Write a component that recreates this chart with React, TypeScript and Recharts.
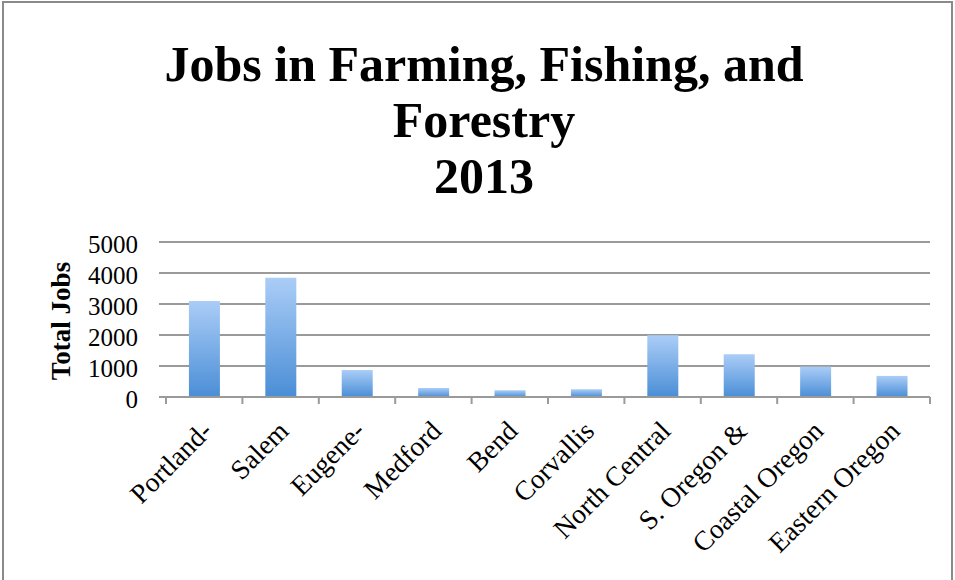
import React from 'react';
import { BarChart, Bar, XAxis, YAxis, CartesianGrid } from 'recharts';

const categories = [
  'Portland-',
  'Salem',
  'Eugene-',
  'Medford',
  'Bend',
  'Corvallis',
  'North Central',
  'S. Oregon &',
  'Coastal Oregon',
  'Eastern Oregon',
];
const totalJobs = [3100, 3850, 870, 290, 215, 250, 1990, 1380, 980, 680];
const yTicks = [0, 1000, 2000, 3000, 4000, 5000];
const titleLines = ['Jobs in Farming, Fishing, and', 'Forestry', '2013'];
const yLabel = 'Total Jobs';

const data = categories.map((name, i) => ({ name, jobs: totalJobs[i] }));

const FONT = '"Liberation Serif", "Times New Roman", serif';
const GRID = '#9a9a9a';

// label rotated 45deg, top-right corner sits under the category centre,
// plus the Excel-style tick marks on the category boundaries
const XTick = (props: any) => {
  const { x, y, payload, index } = props;
  const half = payload && payload.offset ? payload.offset : 0;
  const lx = x - 6;
  const y0 = y + 20;
  return (
    <g>
      <line x1={x - half} y1={y} x2={x - half} y2={y + 7} stroke={GRID} strokeWidth={2} />
      {index === categories.length - 1 && (
        <line x1={x + half} y1={y} x2={x + half} y2={y + 7} stroke={GRID} strokeWidth={2} />
      )}
      <text
        x={lx}
        y={y0}
        dy="0.8em"
        textAnchor="end"
        transform={`rotate(-45 ${lx} ${y0})`}
        fontFamily={FONT}
        fontSize={27.5}
        fill="#000"
      >
        {payload.value}
      </text>
    </g>
  );
};

export default function App() {
  return (
    <div style={{ position: 'absolute', left: 0, top: 0, width: 955, height: 580, background: '#fff' }}>
      <BarChart
        width={955}
        height={580}
        data={data}
        margin={{ top: 242, right: 25, bottom: 0, left: 0 }}
        barCategoryGap="30%"
      >
        <defs>
          <linearGradient id="barFill" x1="0" y1="0" x2="0" y2="1">
            <stop offset="0%" stopColor="#abcdf7" />
            <stop offset="100%" stopColor="#4a8ed6" />
          </linearGradient>
        </defs>
        <CartesianGrid vertical={false} stroke={GRID} strokeWidth={2} />
        <XAxis
          dataKey="name"
          interval={0}
          height={183}
          axisLine={{ stroke: GRID, strokeWidth: 2 }}
          tickLine={false}
          tickSize={0}
          tickMargin={0}
          tick={<XTick />}
        />
        <YAxis
          width={166}
          domain={[0, 5000]}
          ticks={yTicks}
          interval={0}
          axisLine={false}
          tickLine={{ stroke: GRID, strokeWidth: 2 }}
          tickSize={7}
          tickMargin={21}
          tick={{ fill: '#000', fontSize: 25, fontFamily: FONT, dy: 2 }}
        />
        <Bar dataKey="jobs" fill="url(#barFill)" isAnimationActive={false} />
      </BarChart>
      <svg
        width={955}
        height={580}
        style={{ position: 'absolute', left: 0, top: 0, pointerEvents: 'none' }}
      >
        <rect x={3} y={2} width={949} height={600} fill="none" stroke="#8a8a8a" strokeWidth={2} />
        {titleLines.map((line, i) => (
          <text
            key={line}
            x={484}
            y={81 + i * 56}
            textAnchor="middle"
            fontFamily={FONT}
            fontWeight="bold"
            fontSize={50}
            fill="#000"
          >
            {line}
          </text>
        ))}
        <text
          x={70}
          y={321}
          textAnchor="middle"
          transform="rotate(-90 70 321)"
          fontFamily={FONT}
          fontWeight="bold"
          fontSize={27}
          fill="#000"
        >
          {yLabel}
        </text>
      </svg>
    </div>
  );
}
